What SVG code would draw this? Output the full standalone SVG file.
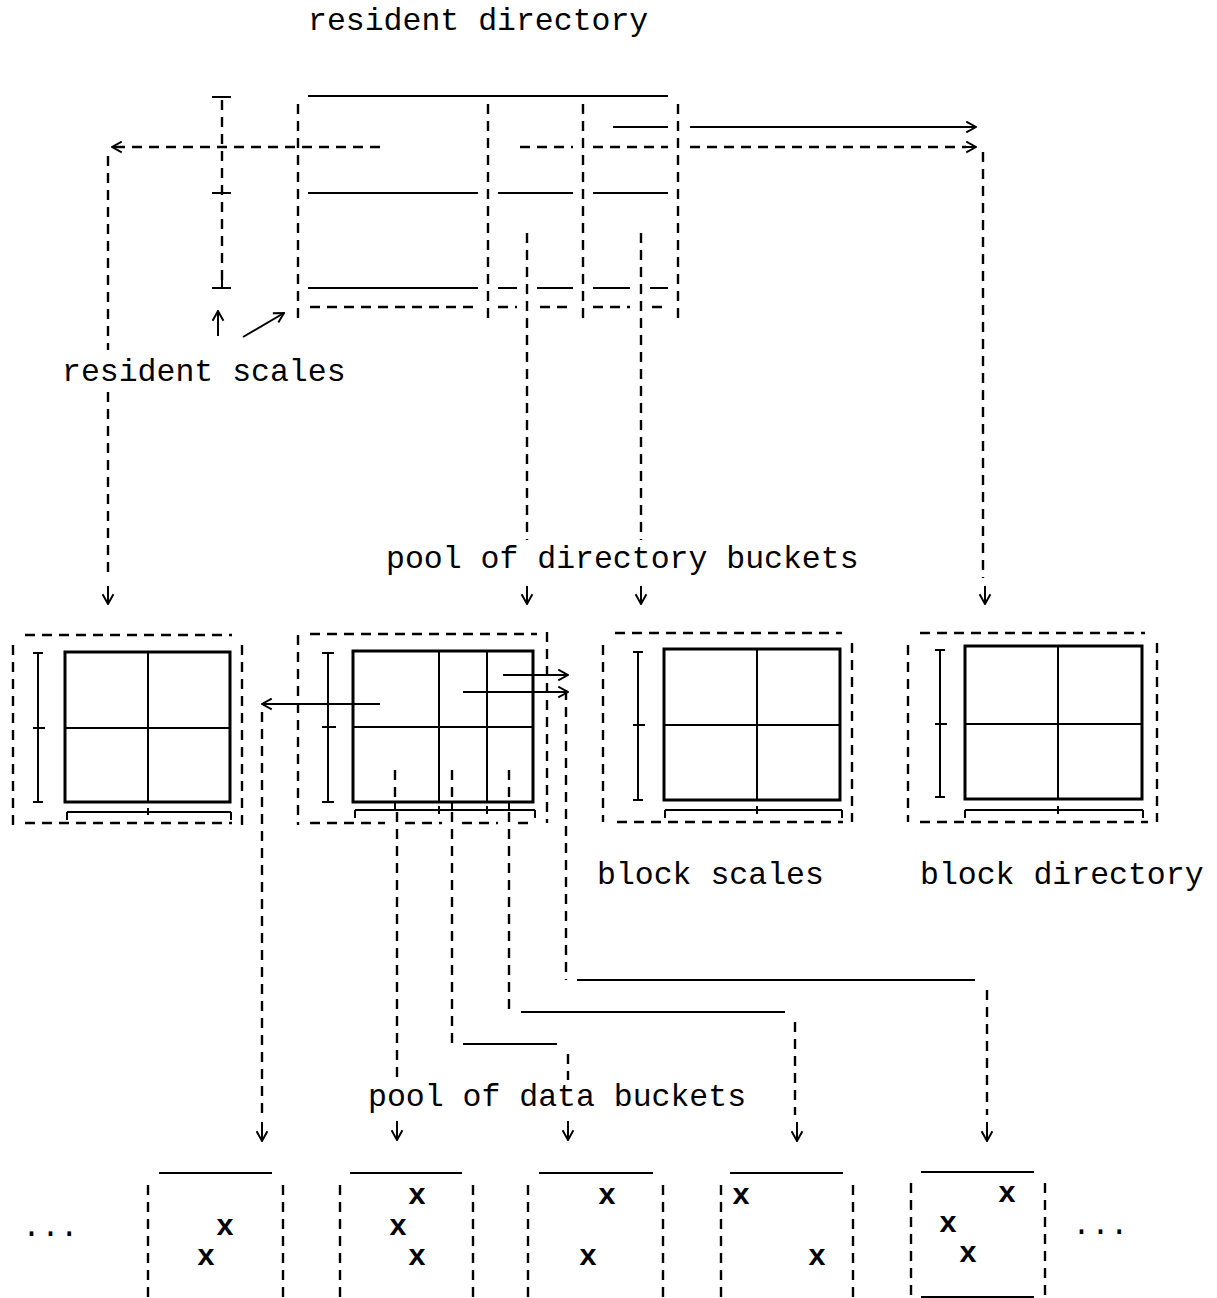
<svg xmlns="http://www.w3.org/2000/svg" width="1217" height="1298" viewBox="0 0 1217 1298">
<defs>
<style>
.t{font-family:"Liberation Mono","DejaVu Sans Mono",monospace;font-size:31.5px;fill:#000}
.x{font-family:"Liberation Mono","DejaVu Sans Mono",monospace;font-size:30px;font-weight:bold;text-anchor:middle;fill:#000}
.s{stroke:#000;stroke-width:2;fill:none}
.d{stroke:#000;stroke-width:2.4;fill:none;stroke-dasharray:10 7}
.g{stroke:#000;stroke-width:3;fill:none}
.a{marker-end:url(#ah)}
</style>
<marker id="ah" viewBox="0 0 12 12" refX="11" refY="6" markerWidth="13" markerHeight="13" markerUnits="userSpaceOnUse" orient="auto">
<path d="M2,1 L11,6 L2,11" fill="none" stroke="#000" stroke-width="1.8" stroke-dasharray="none"/>
</marker>
</defs>
<rect width="1217" height="1298" fill="#fff"/>

<text class="t" x="308" y="30">resident directory</text>
<text class="t" x="62" y="381">resident scales</text>
<text class="t" x="386" y="568">pool of directory buckets</text>
<text class="t" x="597" y="884">block scales</text>
<text class="t" x="920" y="884">block directory</text>
<text class="t" x="368" y="1106">pool of data buckets</text>
<text class="t" x="22" y="1236">...</text>
<text class="t" x="1072" y="1234">...</text>

<g id="resident-scale">
<path class="d" d="M222,100 V288"/>
<path class="s" d="M212,97 H231 M212,193 H231 M222,186 V193 M212,288 H231 M222,280 V288"/>
</g>

<g id="resident-directory">
<path class="s" d="M308,96 H668"/>
<path class="d" d="M298,104 V320 M488,104 V320 M583,104 V320 M678,104 V320"/>
<path class="s" d="M308,193 H478 M498,193 H573 M593,193 H668"/>
<path class="s" d="M308,288 H478 M498,288 H517 M537,288 H573 M593,288 H630 M650,288 H668"/>
<path class="d" d="M310,307 H478 M498,307 H517 M540,307 H573 M593,307 H630 M652,307 H668"/>
<path class="s" d="M613,127 H668"/>
<path class="d" d="M520,147 H573 M593,147 H668"/>
</g>

<g id="dir-bucket-1">
<path class="d" d="M25,635 H232 M25,823 H232 M13,645 V825 M242,645 V825"/>
<rect class="g" x="65" y="652" width="165" height="150"/>
<path class="s" d="M148,652 V802 M65,728 H230"/>
<path class="s" d="M38,653 V802 M33,653 H43 M33,728 H45 M33,802 H43"/>
<path class="s" d="M67,812 H231 M67,812 V820 M231,812 V820 M148,808 V815"/>
</g>

<g id="dir-bucket-2">
<path class="d" d="M310,634 H537 M298,635 V825 M547,632 V823"/>
<path class="d" d="M310,823 H385 M405,823 H442 M462,823 H498 M518,823 H535"/>
<rect class="g" x="353" y="651" width="180" height="151"/>
<path class="s" d="M439,651 V802 M487,651 V802 M353,727 H533"/>
<path class="s" d="M328,653 V802 M322,653 H334 M322,727 H336 M322,802 H334"/>
<path class="s" d="M355,810 H535 M355,810 V818 M535,810 V818 M439,806 V814 M487,806 V814 M395,802 V810 M452,802 V810 M509,802 V810"/>
</g>

<g id="dir-bucket-3">
<path class="d" d="M615,633 H842 M617,822 H843 M603,645 V822 M852,643 V822"/>
<rect class="g" x="664" y="649" width="176" height="151"/>
<path class="s" d="M757,649 V800 M664,725 H840"/>
<path class="s" d="M638,652 V800 M633,652 H643 M633,725 H645 M633,800 H643"/>
<path class="s" d="M665,810 H842 M665,810 V818 M842,810 V818 M757,806 V814"/>
</g>

<g id="dir-bucket-4">
<path class="d" d="M920,633 H1145 M920,822 H1148 M908,645 V822 M1157,643 V822"/>
<rect class="g" x="965" y="646" width="177" height="153"/>
<path class="s" d="M1058,646 V799 M965,724 H1142"/>
<path class="s" d="M940,650 V797 M935,650 H945 M935,724 H947 M935,797 H945"/>
<path class="s" d="M965,810 H1143 M965,810 V818 M1143,810 V818 M1058,806 V814"/>
</g>

<g id="data-bucket-1">
<path class="s" d="M159,1173 H272"/>
<path class="d" d="M148,1185 V1298 M283,1185 V1298"/>
<text class="x" x="225" y="1235">x</text>
<text class="x" x="206" y="1265">x</text>
</g>
<g id="data-bucket-2">
<path class="s" d="M350,1173 H462"/>
<path class="d" d="M340,1185 V1298 M473,1185 V1298"/>
<text class="x" x="417" y="1204">x</text>
<text class="x" x="398" y="1235">x</text>
<text class="x" x="417" y="1265">x</text>
</g>
<g id="data-bucket-3">
<path class="s" d="M539,1173 H653"/>
<path class="d" d="M528,1185 V1298 M663,1185 V1298"/>
<text class="x" x="607" y="1204">x</text>
<text class="x" x="588" y="1265">x</text>
</g>
<g id="data-bucket-4">
<path class="s" d="M730,1173 H843"/>
<path class="d" d="M721,1185 V1298 M853,1185 V1298"/>
<text class="x" x="741" y="1204">x</text>
<text class="x" x="817" y="1265">x</text>
</g>
<g id="data-bucket-5">
<path class="s" d="M921,1172 H1034 M921,1297 H1034"/>
<path class="d" d="M911,1183 V1298 M1045,1183 V1298"/>
<text class="x" x="1007" y="1202">x</text>
<text class="x" x="948" y="1232">x</text>
<text class="x" x="968" y="1262">x</text>
</g>

<g id="connectors">
<path class="d" d="M380,147 H113"/>
<path class="s a" d="M125,147 H112"/>
<path class="d" d="M108,156 V350 M108,392 V578"/>
<path class="s a" d="M108,586 V604"/>
<path class="s a" d="M690,127 H976"/>
<path class="d" d="M690,147 H966"/>
<path class="s a" d="M964,147 H976"/>
<path class="d" d="M983,152 V578"/>
<path class="s a" d="M985,586 V604"/>
<path class="d" d="M527,233 V540"/>
<path class="s a" d="M527,586 V604"/>
<path class="d" d="M641,233 V540"/>
<path class="s a" d="M641,586 V604"/>
<path class="s a" d="M218,336 V311"/>
<path class="s a" d="M243,337 L284,313"/>

<path class="s a" d="M380,704 H262"/>
<path class="s a" d="M503,675 H568"/>
<path class="s a" d="M463,692 H568"/>
<path class="d" d="M262,712 V1115"/>
<path class="s a" d="M262,1122 V1141"/>
<path class="d" d="M397,812 V1080"/>
<path class="s a" d="M397,1121 V1140"/>
<path class="d" d="M452,812 V1044"/>
<path class="s" d="M463,1044 H557"/>
<path class="d" d="M568,1054 V1080"/>
<path class="s a" d="M568,1121 V1140"/>
<path class="d" d="M509,812 V1012"/>
<path class="s" d="M521,1012 H785"/>
<path class="d" d="M795,1022 V1115"/>
<path class="s a" d="M797,1122 V1141"/>
<path class="d" d="M566,690 V980"/>
<path class="s" d="M577,980 H975"/>
<path class="d" d="M987,990 V1115"/>
<path class="s a" d="M987,1122 V1141"/>
<path class="d" d="M395,770 V802 M452,770 V802 M509,770 V802"/>
</g>
</svg>
